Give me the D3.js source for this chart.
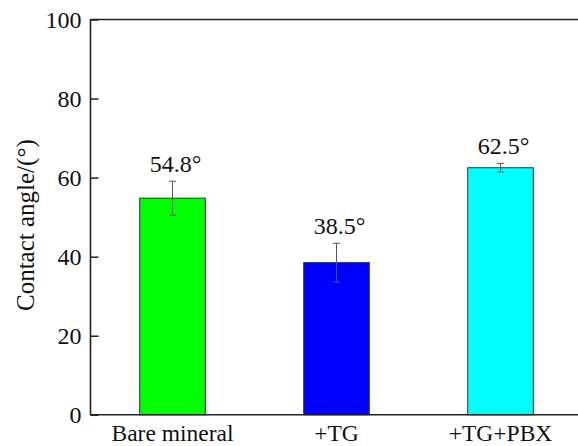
<!DOCTYPE html>
<html>
<head>
<meta charset="utf-8">
<script src="https://cdn.jsdelivr.net/npm/d3@7"></script>
<style>
  html, body { margin: 0; padding: 0; background: #fff; }
  svg { display: block; }
  text { font-family: "Liberation Serif", "Times New Roman", serif; fill: #111; }
</style>
</head>
<body>
<svg id="chart" width="578" height="446"></svg>
<script>
// Contact angle per treatment, with standard deviation
const categories = ["Bare mineral", "+TG", "+TG+PBX"];
const angles = [54.8, 38.5, 62.5];
const errors = [4.3, 4.9, 1.1];
const barColors = ["#00ff00", "#0000ff", "#00ffff"];
const yTicks = [0, 20, 40, 60, 80, 100];

const serif = "'Liberation Serif', 'Times New Roman', serif";
const svg = d3.select("#chart");
const plotLeft = 90.5, plotTop = 19.5, plotBottom = 414.8, plotRight = 582.5;

const x = d3.scaleBand()
  .domain(categories)
  .range([plotLeft, plotRight])
  .paddingInner(0.6)
  .paddingOuter(0.3);

const y = d3.scaleLinear().domain([0, 100]).range([plotBottom, plotTop]);

const data = categories.map((c, i) => ({ c, v: angles[i], e: errors[i], color: barColors[i] }));

// bars
svg.append("g").selectAll("rect")
  .data(data)
  .join("rect")
  .attr("x", d => x(d.c))
  .attr("y", d => y(d.v))
  .attr("width", x.bandwidth())
  .attr("height", d => y(0) - y(d.v))
  .attr("fill", d => d.color)
  .attr("stroke", "#333")
  .attr("stroke-width", 1);

// error bars
const eb = svg.append("g").attr("stroke", "#555").attr("stroke-width", 1);
data.forEach(d => {
  const cx = x(d.c) + x.bandwidth() / 2;
  eb.append("line").attr("x1", cx).attr("x2", cx).attr("y1", y(d.v + d.e)).attr("y2", y(d.v - d.e));
  eb.append("line").attr("x1", cx - 3.5).attr("x2", cx + 3.5).attr("y1", y(d.v + d.e)).attr("y2", y(d.v + d.e));
  eb.append("line").attr("x1", cx - 3.5).attr("x2", cx + 3.5).attr("y1", y(d.v - d.e)).attr("y2", y(d.v - d.e));
});

// value labels
svg.append("g").selectAll("text")
  .data(data)
  .join("text")
  .attr("x", d => x(d.c) + x.bandwidth() / 2 + 3)
  .attr("y", d => y(d.v + d.e) - 9.5)
  .attr("text-anchor", "middle")
  .style("font-family", serif)
  .style("font-size", "24px")
  .text(d => d.v.toFixed(1) + "°");

// y axis (inward ticks)
const yAxis = svg.append("g")
  .attr("transform", `translate(${plotLeft},0)`)
  .call(d3.axisLeft(y).tickValues(yTicks).tickSizeInner(-8).tickSizeOuter(0).tickPadding(9));
yAxis.select(".domain").remove();
yAxis.selectAll(".tick line").attr("stroke", "#222").attr("stroke-width", 1.5);
yAxis.selectAll(".tick text")
  .style("font-family", serif).style("font-size", "24px").style("fill", "#111");

// x axis labels
const xAxis = svg.append("g")
  .attr("transform", `translate(0,${plotBottom})`)
  .call(d3.axisBottom(x).tickSize(0).tickPadding(0));
xAxis.select(".domain").remove();
xAxis.selectAll(".tick text")
  .attr("dy", null)
  .attr("y", 26)
  .style("font-family", serif).style("font-size", "23.5px").style("fill", "#111");

// frame: left, bottom and top edges
const frame = svg.append("g").attr("stroke", "#222").attr("stroke-width", 1.6).attr("fill", "none");
frame.append("path").attr("d", `M${plotRight},${plotTop}H${plotLeft}V${plotBottom}H${plotRight}`);

// y axis title
svg.append("text")
  .attr("transform", `translate(34,${(plotTop + plotBottom) / 2 + 8}) rotate(-90)`)
  .attr("text-anchor", "middle")
  .style("font-family", serif)
  .style("font-size", "25px")
  .text("Contact angle/(°)");
</script>
</body>
</html>
